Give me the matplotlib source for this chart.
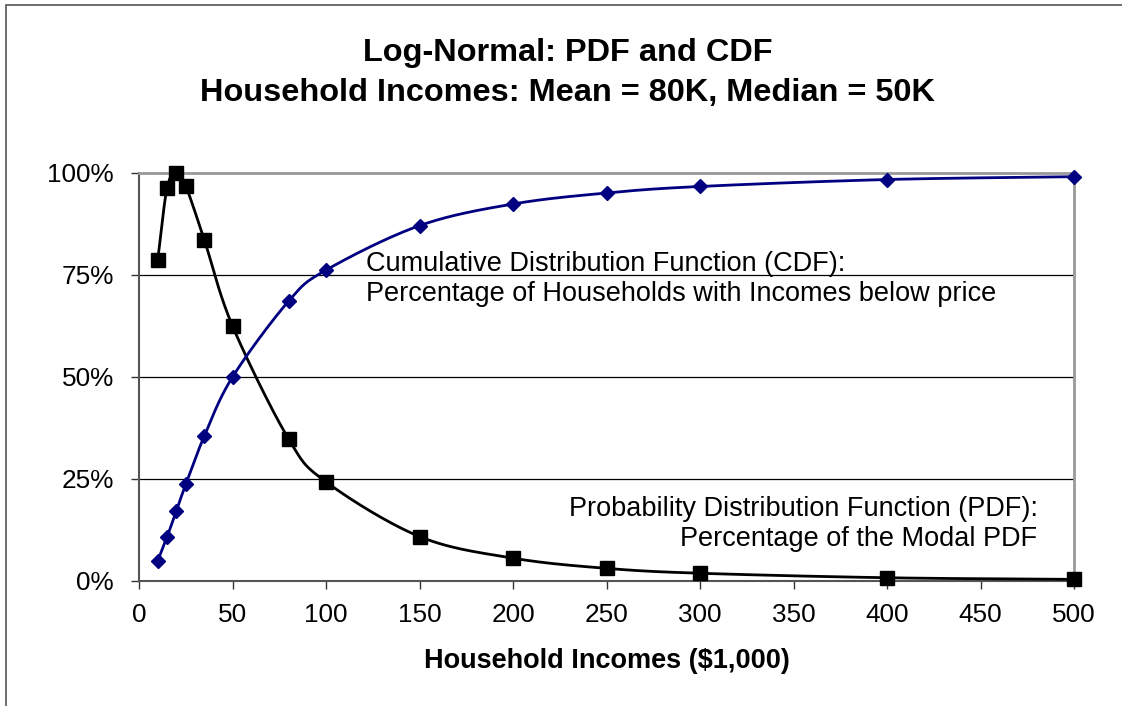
import numpy as np
import matplotlib
matplotlib.use('Agg')
import matplotlib.pyplot as plt
from matplotlib.patches import Rectangle

plt.rcParams['font.family'] = ['Liberation Sans', 'DejaVu Sans']

# データ
incomes = [10, 15, 20, 25, 35, 50, 80, 100, 150, 200, 250, 300, 400, 500]
pdf_pct = [0.787, 0.963, 1.000, 0.968, 0.835, 0.625, 0.348, 0.243,
           0.109, 0.056, 0.031, 0.019, 0.008, 0.004]
cdf_pct = [0.049, 0.108, 0.172, 0.237, 0.356, 0.500, 0.686, 0.762,
           0.871, 0.924, 0.951, 0.967, 0.984, 0.991]
y_ticks = [0, 0.25, 0.5, 0.75, 1.0]
y_labels = ['0%', '25%', '50%', '75%', '100%']
x_ticks = list(range(0, 501, 50))


def smooth(xs, ys, n=30):
    # Excel風のスムージング（Catmull-Rom）
    xs = np.asarray(xs, float)
    ys = np.asarray(ys, float)
    px = np.concatenate([[2 * xs[0] - xs[1]], xs, [2 * xs[-1] - xs[-2]]])
    py = np.concatenate([[2 * ys[0] - ys[1]], ys, [2 * ys[-1] - ys[-2]]])
    out_x, out_y = [], []
    t = np.linspace(0, 1, n)
    for i in range(1, len(px) - 2):
        for p, o in ((px, out_x), (py, out_y)):
            p0, p1, p2, p3 = p[i - 1], p[i], p[i + 1], p[i + 2]
            o.extend(0.5 * ((2 * p1) + (-p0 + p2) * t
                            + (2 * p0 - 5 * p1 + 4 * p2 - p3) * t ** 2
                            + (-p0 + 3 * p1 - 3 * p2 + p3) * t ** 3))
    return np.array(out_x), np.array(out_y)


fig = plt.figure(figsize=(11.22, 7.06), dpi=100)
ax = fig.add_axes([139 / 1122, 1 - 581 / 706, 935 / 1122, 408 / 706])

# 外枠
fig.patches.append(Rectangle((6 / 1122, -0.1), 1.2, 1 - 5 / 706 + 0.1,
                             transform=fig.transFigure, fill=False,
                             edgecolor='#555555', linewidth=1.2))

for y in y_ticks[1:4]:
    ax.axhline(y, color='black', linewidth=0.9, zorder=1)

sx, sy = smooth(incomes, pdf_pct)
ax.plot(sx, sy, color='black', linewidth=2, zorder=3)
ax.plot(incomes, pdf_pct, linestyle='none', marker='s', markersize=10,
        color='black', zorder=4, clip_on=False)

sx, sy = smooth(incomes, cdf_pct)
ax.plot(sx, sy, color='#000080', linewidth=2, zorder=3)
ax.plot(incomes, cdf_pct, linestyle='none', marker='D', markersize=7,
        color='#000080', zorder=4, clip_on=False)

ax.set_xlim(0, 500)
ax.set_ylim(0, 1)
ax.set_xticks(x_ticks)
ax.set_yticks(y_ticks)
ax.set_yticklabels(y_labels)
ax.tick_params(labelsize=18.8, length=6, width=1, color='#333333')
ax.tick_params(axis='y', pad=12)
ax.tick_params(axis='x', pad=10)
for s in ('top', 'right'):
    ax.spines[s].set_color('#999999')
    ax.spines[s].set_linewidth(2)
for s in ('left', 'bottom'):
    ax.spines[s].set_color('#555555')
    ax.spines[s].set_linewidth(1.5)

ax.set_xlabel('Household Incomes ($1,000)', fontsize=19.5, fontweight='bold')
ax.xaxis.set_label_coords(0.5, (581 - 661) / 408)
ax.xaxis.label.set_va('center')

fig.text(0.506, 1 - 73 / 706,
         'Log-Normal: PDF and CDF\nHousehold Incomes: Mean = 80K, Median = 50K',
         ha='center', va='center', fontsize=23.4, fontweight='bold',
         linespacing=1.45)

ax.text(121.5, (581 - 279) / 408, 'Cumulative Distribution Function (CDF):\n'
        'Percentage of Households with Incomes below price',
        fontsize=19.5, ha='left', va='center', linespacing=1.2)
ax.text(480.5, (581 - 524) / 408, 'Probability Distribution Function (PDF):\n'
        'Percentage of the Modal PDF',
        fontsize=19.5, ha='right', va='center', linespacing=1.2,
        multialignment='right')

fig.savefig('out.png', dpi=100)
